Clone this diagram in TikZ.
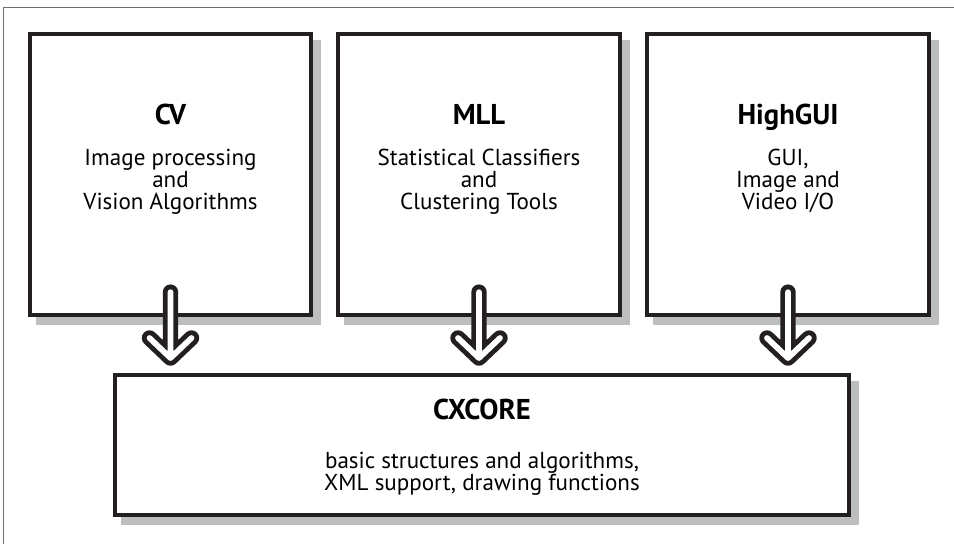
\documentclass[tikz,border=0pt]{standalone}
\usepackage{fontspec}
\setmainfont{PT Sans}
\usetikzlibrary{calc}
\usetikzlibrary{shadows}

\definecolor{ink}{HTML}{231F20}
\definecolor{shade}{HTML}{BCBEC0}
\definecolor{rulegray}{HTML}{6D6E71}

\tikzset{
  module/.style={draw=ink, line width=3pt, fill=white, inner sep=0pt,
    minimum width=211pt, minimum height=211pt,
    general shadow={fill=shade, draw=shade, line width=3pt,
      shadow xshift=6pt, shadow yshift=-6pt}},
  modname/.style={anchor=base, inner sep=0pt, font=\fontsize{21.5}{24}\selectfont\bfseries},
  moddesc/.style={anchor=north, inner sep=0pt, align=center,
    font=\fontsize{17.3}{16.6}\selectfont},
  hollow/.style={draw=white, line width=4.3pt, line cap=round, line join=round,
    preaction={draw=ink, line width=11.6pt, line cap=round, line join=round}}
}

\begin{document}
\begin{tikzpicture}[x=0.75pt, y=-0.75pt]
\useasboundingbox (0,0) rectangle (954,544);

\draw[rulegray, line width=1.1pt] (3.5,544) -- (3.5,7.5) -- (954,7.5);

% the three modules on top
\node[module] (cv) at (170.5,174.5) {};
\node[module] (mll) at (479,174.5) {};
\node[module] (highgui) at (788,174.5) {};

% the core below
\node[module, minimum width=550.5pt, minimum height=105pt] (cxcore) at (482,445) {};

\node[modname] (cvname) at ($(cv.north)+(0,93)$) {CV};
\node[moddesc] (cvdesc) at ($(cv.north)+(0,117)$) {Image processing\\and\\Vision Algorithms};

\node[modname] (mllname) at ($(mll.north)+(0,93)$) {MLL};
\node[moddesc] (mlldesc) at ($(mll.north)+(0,117)$) {Statistical Classifiers\\and\\Clustering Tools};

\node[modname] (highguiname) at ($(highgui.north)+(0,93)$) {HighGUI};
\node[moddesc] (highguidesc) at ($(highgui.north)+(0,117)$) {GUI,\\Image and\\Video I/O};

\node[modname] (cxcorename) at ($(cxcore.north)+(0,46)$) {CXCORE};
\node[moddesc] (cxcoredesc) at ($(cxcore.north)+(0,79)$) {basic structures and algorithms,\\XML support, drawing functions};

% hollow arrows into the core
\foreach \n in {cv,mll,highgui}{
  \draw[hollow] ($(\n.south)+(0,-25)$) -- ($(\n.south |- cxcore.north)+(0,-15)$)
    ++(-21,-20) -- ++(21,20) -- ++(21,-20);
}
\end{tikzpicture}
\end{document}
